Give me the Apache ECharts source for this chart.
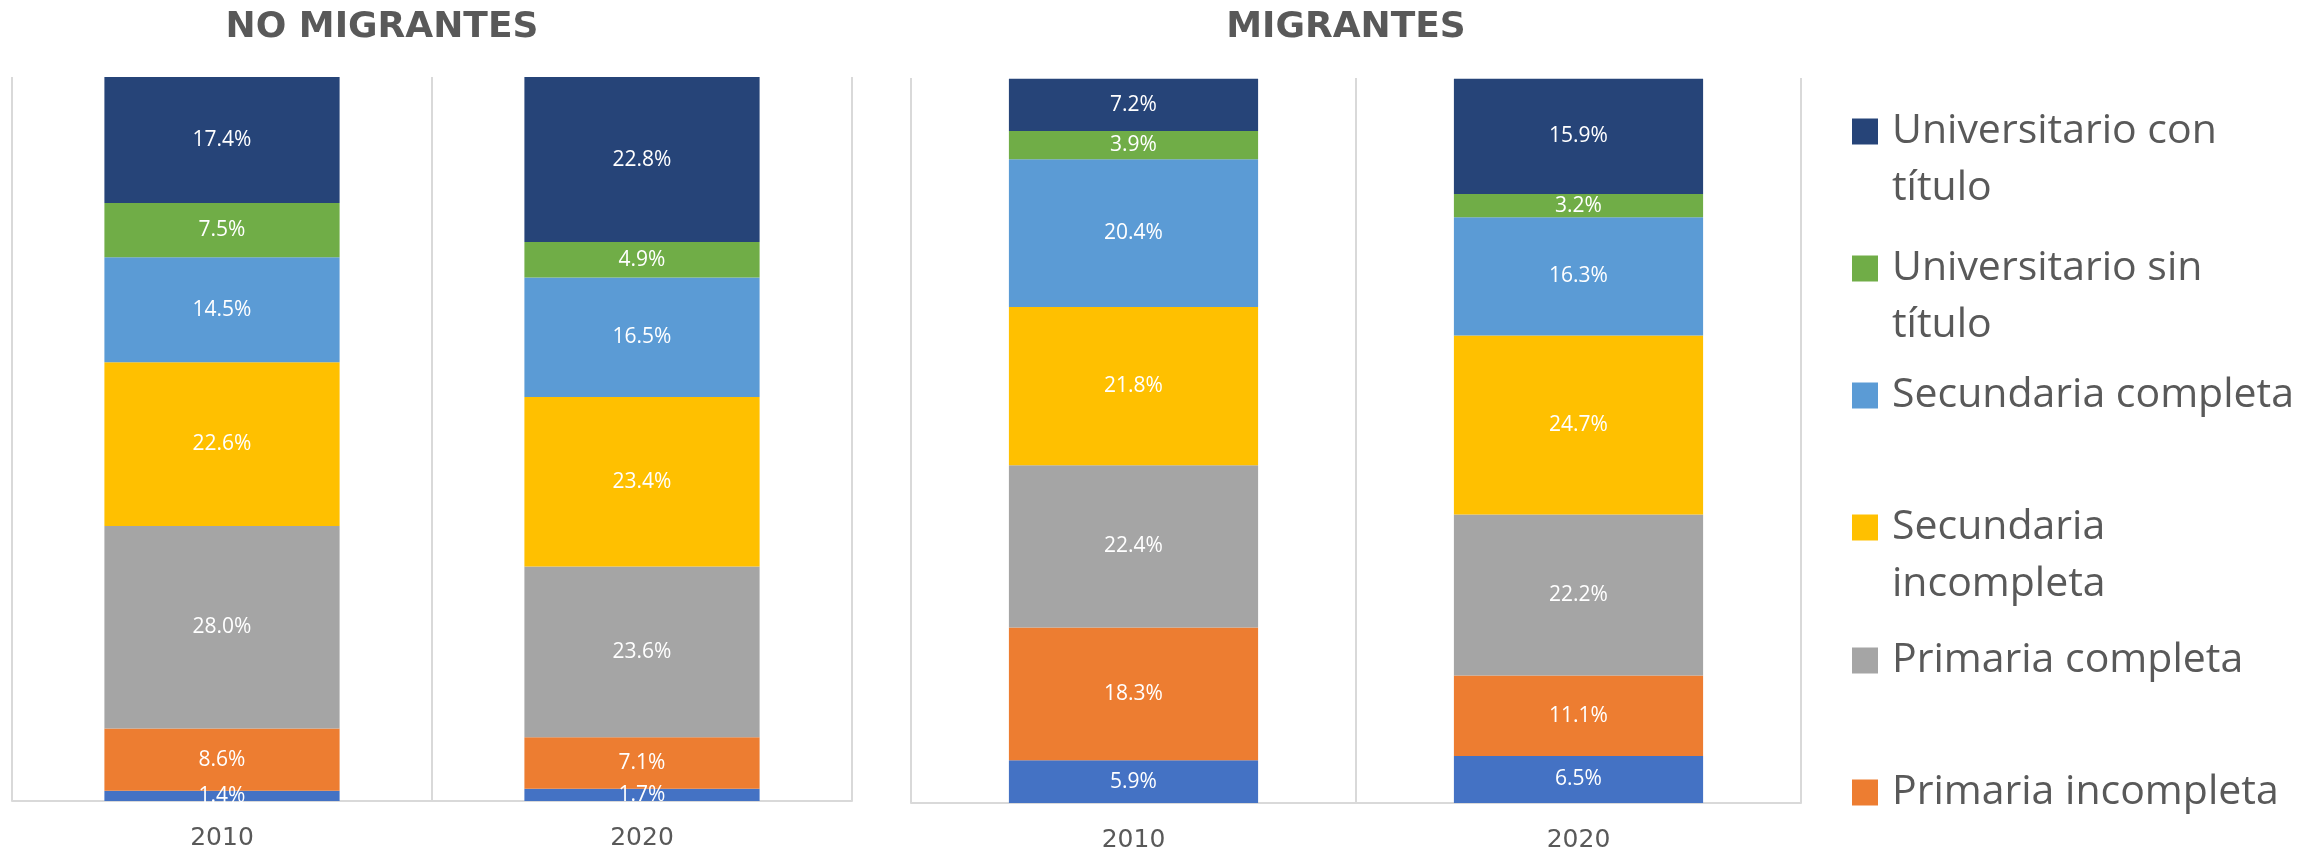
<!DOCTYPE html>
<html>
<head>
<meta charset="utf-8">
<script src="https://cdn.jsdelivr.net/npm/echarts@6/dist/echarts.min.js"></script>
<style>
  html, body { margin: 0; padding: 0; background: #fff; }
  #chart { width: 2302px; height: 853px; }
</style>
</head>
<body>
<div id="chart"></div>
<script>
const years = ['2010', '2020']

// bottom to top of each bar
const levels = [
  'Sin instrucción',
  'Primaria incompleta',
  'Primaria completa',
  'Secundaria incompleta',
  'Secundaria completa',
  'Universitario sin título',
  'Universitario con título'
]

const noMigrantes2010 = [1.4, 8.6, 28.0, 22.6, 14.5, 7.5, 17.4]
const noMigrantes2020 = [1.7, 7.1, 23.6, 23.4, 16.5, 4.9, 22.8]
const migrantes2010 = [5.9, 18.3, 22.4, 21.8, 20.4, 3.9, 7.2]
const migrantes2020 = [6.5, 11.1, 22.2, 24.7, 16.3, 3.2, 15.9]

const colorList = ['#4472C4', '#ED7D31', '#A5A5A5', '#FFC000', '#5B9BD5', '#70AD47', '#264478']

const textGray = '#595959'
const lineGray = '#D9D9D9'

// wrapped legend text; the leading blank line keeps the marker on the first line
const legendLabels = {
  'Universitario con título': '\nUniversitario con\ntítulo',
  'Universitario sin título': '\nUniversitario sin\ntítulo',
  'Secundaria incompleta': '\nSecundaria\nincompleta'
}

// legend entries, top to bottom, with their top offset
const legendItems = [
  { name: 'Universitario con título', top: 46 },
  { name: 'Universitario sin título', top: 183 },
  { name: 'Secundaria completa', top: 367 },
  { name: 'Secundaria incompleta', top: 442 },
  { name: 'Primaria completa', top: 632 },
  { name: 'Primaria incompleta', top: 764 }
]

const chart = echarts.init(document.getElementById('chart'))

const makeXAxis = (gridIndex) => ({
  type: 'category',
  gridIndex,
  data: years,
  axisLine: { show: true, lineStyle: { color: lineGray, width: 2 } },
  axisTick: { show: false },
  splitLine: { show: true, lineStyle: { color: lineGray, width: 2 } },
  axisLabel: {
    color: textGray,
    fontFamily: 'DejaVu Sans',
    fontSize: 25,
    margin: 25
  }
})

const makeYAxis = (gridIndex) => ({
  type: 'value',
  gridIndex,
  min: 0,
  max: 100,
  show: false,
  splitLine: { show: false }
})

const series = []
const panels = [[noMigrantes2010, noMigrantes2020], [migrantes2010, migrantes2020]]
panels.forEach((panel, p) => {
  levels.forEach((name, i) => {
    series.push({
      name,
      type: 'bar',
      stack: 'panel' + p,
      xAxisIndex: p,
      yAxisIndex: p,
      barCategoryGap: '44%',
      itemStyle: { color: colorList[i] },
      label: {
        show: true,
        position: 'inside',
        color: '#fff',
        fontFamily: 'Open Sans',
        fontSize: 21,
        formatter: (d) => d.value.toFixed(1) + '%'
      },
      emphasis: { disabled: true },
      data: [panel[0][i], panel[1][i]]
    })
  })
})

const titleStyle = { color: textGray, fontFamily: 'DejaVu Sans', fontWeight: 'bold', fontSize: 36 }

const option = {
  animation: false,
  color: colorList,
  title: [
    {
      text: 'NO MIGRANTES',
      left: 382,
      top: 28,
      padding: 0,
      textAlign: 'center',
      textVerticalAlign: 'middle',
      textStyle: titleStyle
    },
    {
      text: 'MIGRANTES',
      left: 1346,
      top: 28,
      padding: 0,
      textAlign: 'center',
      textVerticalAlign: 'middle',
      textStyle: titleStyle
    }
  ],
  legend: legendItems.map(item => ({
    data: [item.name],
    left: 1852,
    top: item.top,
    padding: 0,
    itemWidth: 26,
    itemHeight: 26,
    icon: 'rect',
    selectedMode: false,
    formatter: (name) => legendLabels[name] || name,
    textStyle: {
      color: textGray,
      fontFamily: 'Open Sans',
      fontSize: 41,
      lineHeight: 57,
      padding: [0, 0, 0, 9]
    }
  })),
  grid: [
    { left: 12, width: 840, top: 77, height: 724 },
    { left: 911, width: 890, top: 78, height: 725 }
  ],
  xAxis: [makeXAxis(0), makeXAxis(1)],
  yAxis: [makeYAxis(0), makeYAxis(1)],
  series
}

chart.setOption(option)
</script>
</body>
</html>
